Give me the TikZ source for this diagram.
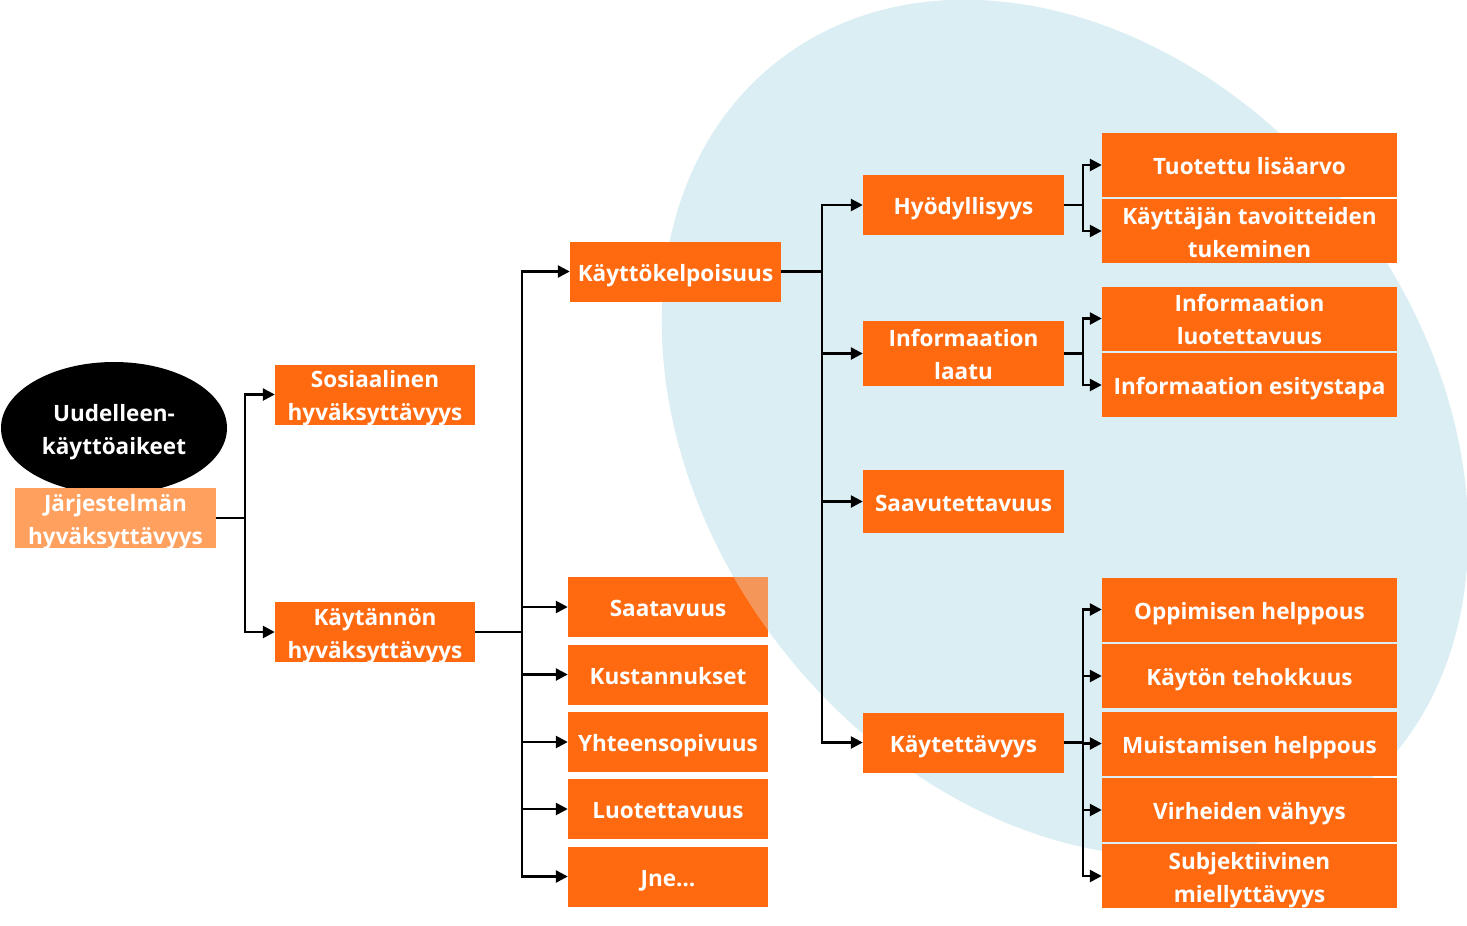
\documentclass[tikz,border=0pt]{standalone}
\usepackage{fontspec}
\setmainfont{Open Sans}
\usepackage{tikz}
\usetikzlibrary{arrows.meta}
\usetikzlibrary{shapes.geometric}

\definecolor{boxorange}{HTML}{FF6A10}
\definecolor{paleorange}{HTML}{FFA05F}
\definecolor{patchorange}{HTML}{F4965A}
\definecolor{bgblue}{HTML}{DAEEF3}

\begin{document}
\begin{tikzpicture}[x=1pt,y=-1pt,
	twolines/.style={inner ysep=-2pt, execute at begin node={\rule[-5.5pt]{0pt}{63.5pt}}}]
	\useasboundingbox (0,0) rectangle (1467,926);
	\fill[bgblue, rotate around={-51.8:(1065,428)}] (1065,428) ellipse [x radius=466, y radius=359];

	\begin{scope}[every node/.style={rectangle, fill=boxorange, text=white, inner sep=0pt, align=center,
	              font=\bfseries\fontsize{22.5}{33}\selectfont, minimum width=200pt, minimum height=60pt,
	              execute at begin node={\rule[-5.5pt]{0pt}{30pt}}}]
		\node[ellipse, fill=black, minimum width=226pt, minimum height=132pt,
		      execute at begin node={\rule{0pt}{58pt}}] (ua) at (114,428) {Uudelleen-\\käyttöaikeet};
		\node[twolines, fill=paleorange, minimum width=201pt] (jh) at (115.5,518) {Järjestelmän\\hyväksyttävyys};
		\node[twolines] (sh) at (375,394.5) {Sosiaalinen\\hyväksyttävyys};
		\node[twolines] (kh) at (375,632) {Käytännön\\hyväksyttävyys};

		\node[minimum width=211pt] (kk) at (675.5,271.5) {Käyttökelpoisuus};
		\node (saat) at (668,607) {Saatavuus};
		\node (kust) at (668,674.5) {Kustannukset};
		\node (yht) at (668,742) {Yhteensopivuus};
		\node (luot) at (668,809) {Luotettavuus};
		\node (jne) at (668,876.5) {Jne…};

		\node[minimum width=201pt] (hyo) at (963.5,205) {Hyödyllisyys};
		\node[twolines, minimum width=201pt, minimum height=65pt] (il) at (963.5,353.5) {Informaation\\laatu};
		\node[minimum width=201pt, minimum height=63pt] (saav) at (963.5,501.5) {Saavutettavuus};
		\node[minimum width=201pt] (kayt) at (963.5,742.5) {Käytettävyys};
	\end{scope}

	\begin{scope}[every node/.style={rectangle, fill=boxorange, text=white, inner sep=0pt, align=center,
	              font=\bfseries\fontsize{22.5}{33}\selectfont, minimum width=295pt, minimum height=64pt,
	              execute at begin node={\rule[-5.5pt]{0pt}{30pt}}}]
		\node (tl) at (1249.5,165) {Tuotettu lisäarvo};
		\node[twolines] (kt) at (1249.5,231) {Käyttäjän tavoitteiden\\tukeminen};
		\node[twolines] (ilu) at (1249.5,318.5) {Informaation\\luotettavuus};
		\node (ies) at (1249.5,385) {Informaation esitystapa};
		\node (op) at (1249.5,609.5) {Oppimisen helppous};
		\node (kte) at (1249.5,676) {Käytön tehokkuus};
		\node (mh) at (1249.5,743.5) {Muistamisen helppous};
		\node (vv) at (1249.5,810) {Virheiden vähyys};
		\node[twolines] (sm) at (1249.5,876) {Subjektiivinen\\miellyttävyys};
	\end{scope}

	\begin{scope}
		\clip[rotate around={-51.8:(1065,428)}] (1065,428) ellipse [x radius=466, y radius=359];
		\fill[patchorange] (saat.north west) rectangle (saat.south east);
	\end{scope}

	\begin{scope}[>={Triangle[length=12pt,width=12pt]}, line width=2.5pt]
		\coordinate (b1) at (245,0);
		\coordinate (b2) at (522,0);
		\coordinate (b3) at (822,0);
		\coordinate (b4) at (1083,0);

		\draw[->] (jh.east) -- (jh.east -| b1) |- (sh.west);
		\draw[->] (jh.east) -- (jh.east -| b1) |- (kh.west);
		\foreach \t in {kk,saat,kust,yht,luot,jne}
			\draw[->] (kh.east) -- (kh.east -| b2) |- (\t.west);
		\foreach \t in {hyo,il,saav,kayt}
			\draw[->] (kk.east) -- (kk.east -| b3) |- (\t.west);
		\foreach \t in {tl,kt}
			\draw[->] (hyo.east) -- (hyo.east -| b4) |- (\t.west);
		\foreach \t in {ilu,ies}
			\draw[->] (il.east) -- (il.east -| b4) |- (\t.west);
		\foreach \t in {op,kte,mh,vv,sm}
			\draw[->] (kayt.east) -- (kayt.east -| b4) |- (\t.west);
	\end{scope}
\end{tikzpicture}
\end{document}
